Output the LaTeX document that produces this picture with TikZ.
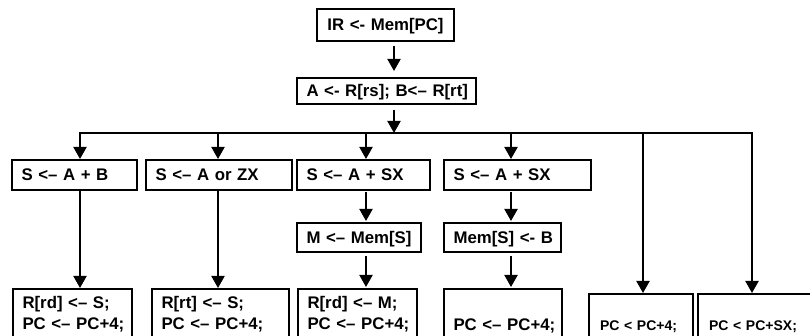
\documentclass[tikz,border=0pt]{standalone}
\usepackage{fontspec}
\setmainfont{Liberation Sans}
\usetikzlibrary{arrows.meta}
\begin{document}
\begin{tikzpicture}[x=1pt,y=-1pt,
  box/.style={draw, line width=2.6pt, outer sep=0pt, inner xsep=9.5pt, inner ysep=0pt,
    anchor=north west, align=left, font=\fontsize{16.8}{21}\selectfont\bfseries},
  onel/.style={text height=12pt, text depth=0pt},
  small/.style={font=\fontsize{14}{18}\selectfont\bfseries},
  conn/.style={line width=2pt},
  arr/.style={conn, -{Triangle[length=12pt,width=13pt]}},
]
\path[use as bounding box, clip] (0,0) rectangle (810,336);
\fill[white] (0,0) rectangle (810,336);

% top boxes
\node[box, onel, align=center, text width=118pt, minimum height=32pt] (top) at (317,9) {IR <- Mem[PC]};
\node[box, onel, align=center, text width=160pt, minimum height=26pt] (b2) at (297,78) {\mbox{A <- R[rs]; B<– R[rt]}};

% row 1
\node[box, onel, text width=106pt, minimum height=30pt] (r1a) at (12,160) {\mbox{S <– A + B}};
\node[box, onel, text width=127pt, minimum height=30pt] (r1b) at (146,160) {\mbox{S <– A or ZX}};
\node[box, onel, text width=114pt, minimum height=30pt] (r1c) at (297,160) {\mbox{S <– A + SX}};
\node[box, onel, text width=128pt, minimum height=30pt] (r1d) at (444,160) {\mbox{S <– A + SX}};

% row 2
\node[box, onel, text width=105pt, minimum height=29pt] (r2c) at (297,223) {\mbox{M <– Mem[S]}};
\node[box, onel, text width=98pt, minimum height=29pt] (r2d) at (444,223) {\mbox{Mem[S] <- B}};

% row 3
\node[box, text width=100pt, text height=19pt, text depth=41pt] (r3a) at (13,289) {\mbox{R[rd] <– S;}\\\mbox{PC <– PC+4;}};
\node[box, text width=118pt, text height=19pt, text depth=41pt] (r3b) at (152,289) {\mbox{R[rt] <– S;}\\\mbox{PC <– PC+4;}};
\node[box, text width=100pt, text height=19pt, text depth=41pt] (r3c) at (298,289) {\mbox{R[rd] <– M;}\\\mbox{PC <– PC+4;}};
\node[box, text width=99pt, text height=41pt, text depth=19pt] (r3d) at (444,289) {\mbox{PC <– PC+4;}};
\node[box, small, inner xsep=11pt, text width=82pt, text height=36pt, text depth=24pt] (r3e) at (589,294) {\mbox{PC < PC+4;}};
\node[box, small, inner xsep=11pt, text width=98pt, text height=36pt, text depth=24pt] (r3f) at (698,294) {\mbox{PC < PC+SX;}};

% bus coordinates
\coordinate (tA) at (80,133);
\coordinate (tB) at (218,133);
\coordinate (tC) at (366,133);
\coordinate (tM) at (394,133);
\coordinate (tD) at (511,133);
\coordinate (tE) at (643,133);
\coordinate (tF) at (752,133);

% connectors
\draw[arr, shorten <=5pt, shorten >=7pt] (tM |- top.south) -- (tM |- b2.north);
\draw[arr, shorten <=6pt, shorten >=0pt] (tM |- b2.south) -- (tM);
\draw[conn, {Triangle[length=12pt,width=13pt]}-{Triangle[length=12pt,width=13pt]}, shorten <=1pt, shorten >=1pt]
  (tA |- r1a.north) -- (tA) -- (tF) -- (tF |- r3f.north);
\draw[arr, shorten >=1pt] (tB) -- (tB |- r1b.north);
\draw[arr, shorten >=1pt] (tC) -- (tC |- r1c.north);
\draw[arr, shorten >=1pt] (tD) -- (tD |- r1d.north);
\draw[arr, shorten >=1pt] (tE) -- (tE |- r3e.north);

\draw[arr, shorten <=1pt, shorten >=1pt] (tA |- r1a.south) -- (tA |- r3a.north);
\draw[arr, shorten <=1pt, shorten >=1pt] (tB |- r1b.south) -- (tB |- r3b.north);
\draw[arr, shorten <=2pt, shorten >=2pt] (tC |- r1c.south) -- (tC |- r2c.north);
\draw[arr, shorten <=2pt, shorten >=2pt] (tD |- r1d.south) -- (tD |- r2d.north);
\draw[arr, shorten <=4pt, shorten >=2pt] (tC |- r2c.south) -- (tC |- r3c.north);
\draw[arr, shorten <=4pt, shorten >=2pt] (tD |- r2d.south) -- (tD |- r3d.north);
\end{tikzpicture}
\end{document}
